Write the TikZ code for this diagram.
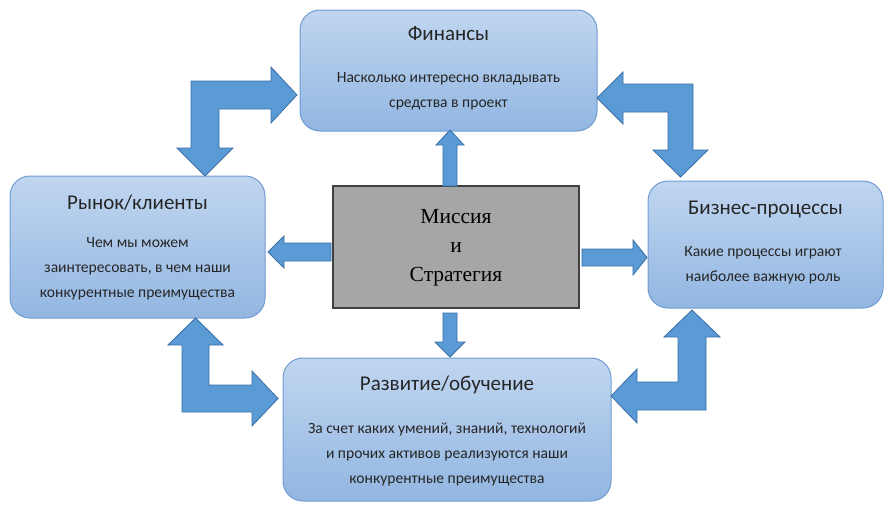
\documentclass[tikz,border=0pt]{standalone}
\usepackage{fontspec}
\setmainfont{Carlito}
\newfontfamily\serifmis{Liberation Serif}
\definecolor{boxtop}{RGB}{192,214,240}
\definecolor{boxbot}{RGB}{146,182,225}
\definecolor{boxline}{RGB}{112,155,208}
\definecolor{arrfill}{RGB}{91,155,213}
\definecolor{arrline}{RGB}{58,110,165}
\definecolor{misfill}{RGB}{166,166,166}
\definecolor{misline}{RGB}{64,64,64}
\begin{document}
\begin{tikzpicture}[x=1pt,y=-1pt,
  card/.style={draw=boxline, line width=1pt, rounded corners=20pt, top color=boxtop, bottom color=boxbot, inner sep=0pt},
  ttl/.style={font=\fontsize{21}{24}\selectfont, text=black!85, inner sep=0pt},
  bdy/.style={font=\fontsize{15.6}{25}\selectfont, text=black!85, align=center, inner sep=0pt},
  blk/.style={fill=arrfill, draw=arrline, line width=0.8pt, line join=miter},
  mis/.style={draw=misline, line width=1.5pt, fill=misfill, inner sep=0pt}]
\useasboundingbox (0,0) rectangle (892,509);
% boxes
\node[card, minimum width=297pt, minimum height=121pt] (fin) at (448.5,70.5) {};
\node[card, minimum width=255pt, minimum height=142pt] (mkt) at (137.5,247) {};
\node[card, minimum width=235pt, minimum height=127pt] (bus) at (765.5,244.5) {};
\node[card, minimum width=328pt, minimum height=143pt] (dev) at (447,429.5) {};
\node[mis, minimum width=246pt, minimum height=122pt] (mis) at (456,247) {};
% texts
\node[ttl] (finT) at (448.5,34) {Финансы};
\node[bdy] (finB) at (448.5,91) {Насколько интересно вкладывать\\средства в проект};
\node[ttl] (mktT) at (137.5,203) {Рынок/клиенты};
\node[bdy] (mktB) at (137.5,269) {Чем мы можем\\заинтересовать, в чем наши\\конкурентные преимущества};
\node[ttl] (busT) at (765.5,209) {Бизнес-процессы};
\node[bdy] (busB) at (763,265) {Какие процессы играют\\наиболее важную роль};
\node[ttl] (devT) at (447,385) {Развитие/обучение};
\node[bdy] (devB) at (447,455) {За счет каких умений, знаний, технологий\\и прочих активов реализуются наши\\конкурентные преимущества};
\node[font=\serifmis\fontsize{21.5}{29}\selectfont, align=center, inner sep=0pt] (misT) at (456,248) {Миссия\\и\\Стратегия};
% straight arrows
\draw[blk] (443,186) -- (443,145) -- (436,145) -- (450,130) -- (464,145) -- (457,145) -- (457,186) -- cycle;
\draw[blk] (331,243) -- (284,243) -- (284,236) -- (268,252) -- (284,268) -- (284,261) -- (331,261) -- cycle;
\draw[blk] (582,249) -- (633,249) -- (633,240) -- (647,257.5) -- (633,275) -- (633,266) -- (582,266) -- cycle;
\draw[blk] (443,313) -- (443,342) -- (435,342) -- (450,357) -- (465,342) -- (457,342) -- (457,313) -- cycle;
% L arrows
\draw[blk] (191,148) -- (177,148) -- (205,176) -- (233,148) -- (219,148) -- (219,109) -- (271,109) -- (271,123) -- (297,95) -- (271,67) -- (271,81) -- (191,81) -- cycle;
\draw[blk] (693,84) -- (693,150) -- (708,150) -- (680.5,177) -- (653,150) -- (668,150) -- (668,112) -- (623,112) -- (623,124) -- (597,98) -- (623,72) -- (623,84) -- cycle;
\draw[blk] (182,412) -- (182,345) -- (168,345) -- (195.5,318) -- (223,345) -- (209,345) -- (209,385) -- (252,385) -- (252,371) -- (278,398.5) -- (252,426) -- (252,412) -- cycle;
\draw[blk] (706,410) -- (706,337) -- (720,337) -- (692,310) -- (664,337) -- (678,337) -- (678,382) -- (637,382) -- (637,369) -- (611,396) -- (637,423) -- (637,410) -- cycle;
\end{tikzpicture}
\end{document}
